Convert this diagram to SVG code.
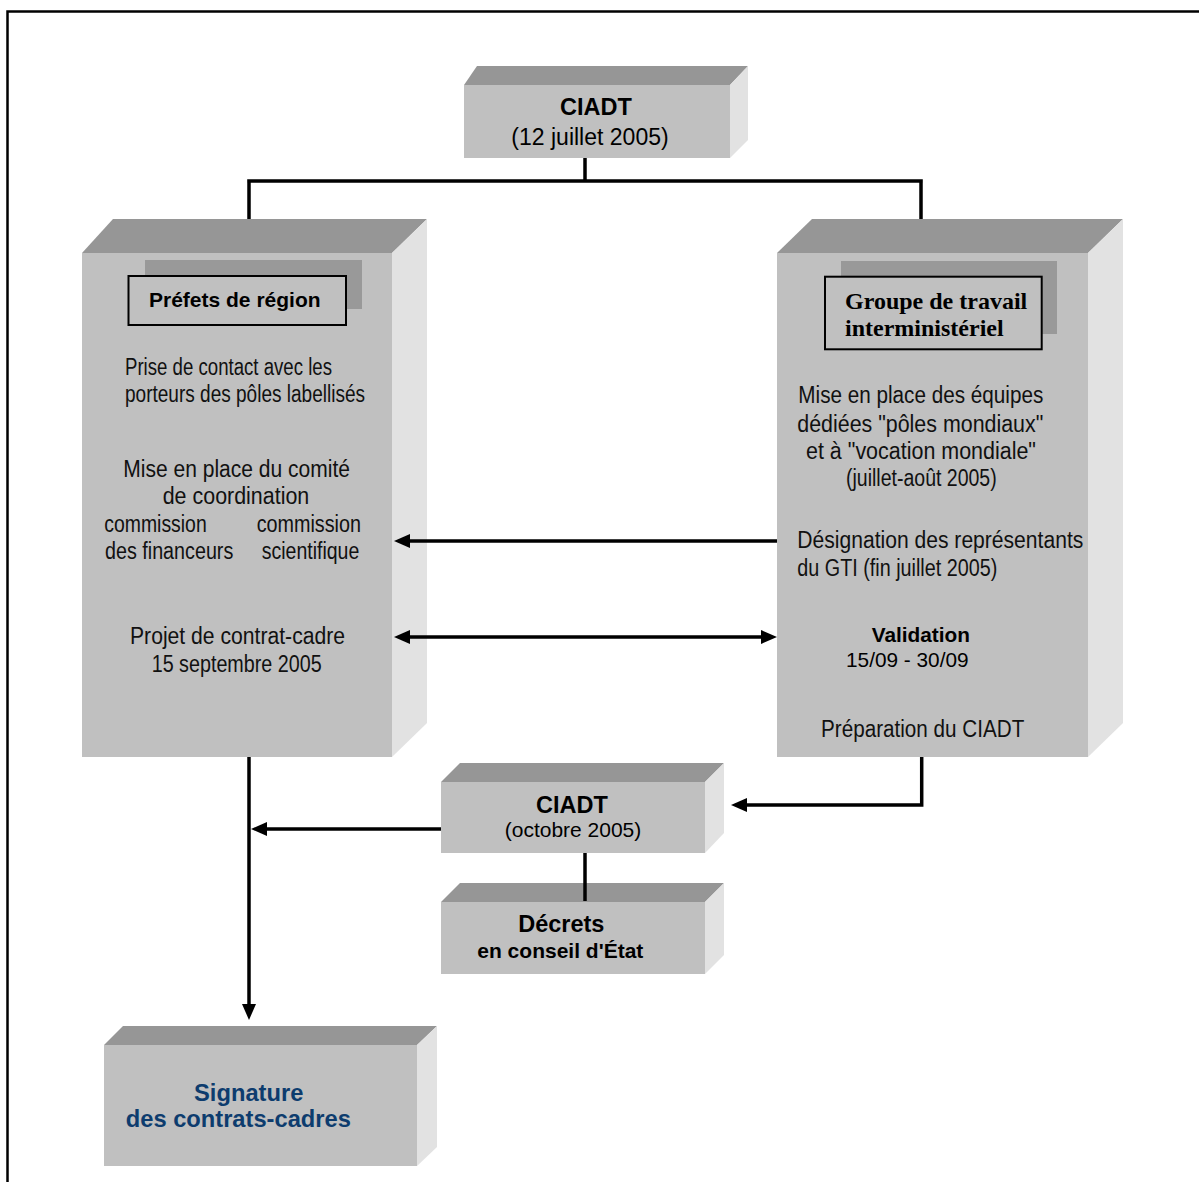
<svg xmlns="http://www.w3.org/2000/svg" width="1199" height="1182" viewBox="0 0 1199 1182">
<style>
.front{fill:#c0c0c0}
.top{fill:#969696}
.side{fill:#e2e2e2}
.b{font-family:"Liberation Sans",Arial,sans-serif;font-weight:bold;fill:#000}
.r{font-family:"Liberation Sans",Arial,sans-serif;fill:#000}
.n{font-family:"Liberation Sans Narrow","Liberation Sans",Arial,sans-serif;fill:#111;font-size:23px}
.tb{font-family:"Liberation Serif","Times New Roman",serif;font-weight:bold;font-size:24px;fill:#000}
.c{text-anchor:middle}
.ln{fill:none;stroke:#000;stroke-width:3.5}
</style>
<defs>
<marker id="ah" markerUnits="userSpaceOnUse" markerWidth="18" markerHeight="16" viewBox="0 0 18 16" refX="8" refY="8" orient="auto-start-reverse">
<path d="M0,1 L16,8 L0,15 z" fill="#000"/>
</marker>
</defs>
<rect x="7.5" y="11.5" width="1200" height="1200" fill="#fff" stroke="#000" stroke-width="2.5"/>

<g id="ciadt-juillet">
<polygon class="top" points="464,85 477,66 748,66 730,85"/>
<polygon class="side" points="730,85 748,66 748,140 730,158"/>
<rect class="front" x="464" y="85" width="266" height="73"/>
<text class="b c" x="596" y="115" font-size="23.5">CIADT</text>
<text class="r c" x="590" y="145" font-size="23">(12 juillet 2005)</text>
</g>

<g id="prefets">
<polygon class="top" points="82,253 113,219 427,219 392,253"/>
<polygon class="side" points="392,253 427,219 427,723 392,757"/>
<rect class="front" x="82" y="253" width="310" height="504"/>
<rect x="145" y="260" width="217" height="49" fill="#999"/>
<rect x="128.5" y="276" width="217.5" height="49" fill="#c0c0c0" stroke="#000" stroke-width="2"/>
<text class="b" x="149" y="306.5" font-size="21">Préfets de région</text>
<text class="n" x="125" y="375" font-size="21.5" textLength="207" lengthAdjust="spacingAndGlyphs">Prise de contact avec les</text>
<text class="n" x="125" y="401.5" font-size="21.5" textLength="240" lengthAdjust="spacingAndGlyphs">porteurs des pôles labellisés</text>
<text class="n" x="123.3" y="476.7" textLength="226.7" lengthAdjust="spacingAndGlyphs">Mise en place du comité</text>
<text class="n" x="162.7" y="504" textLength="146.6" lengthAdjust="spacingAndGlyphs">de coordination</text>
<text class="n" x="104.3" y="531.7" textLength="102.4" lengthAdjust="spacingAndGlyphs">commission</text>
<text class="n" x="256.7" y="531.7" textLength="104.3" lengthAdjust="spacingAndGlyphs">commission</text>
<text class="n" x="105" y="559" textLength="128.3" lengthAdjust="spacingAndGlyphs">des financeurs</text>
<text class="n" x="261.7" y="559" textLength="97.6" lengthAdjust="spacingAndGlyphs">scientifique</text>
<text class="n" x="130" y="644" textLength="215" lengthAdjust="spacingAndGlyphs">Projet de contrat-cadre</text>
<text class="n" x="151.7" y="671.7" textLength="170" lengthAdjust="spacingAndGlyphs">15 septembre 2005</text>
</g>

<g id="gti">
<polygon class="top" points="777,253 812,219 1123,219 1088,253"/>
<polygon class="side" points="1088,253 1123,219 1123,723 1088,757"/>
<rect class="front" x="777" y="253" width="311" height="504"/>
<rect x="841" y="261" width="216" height="73" fill="#999"/>
<rect x="825" y="276.7" width="216.7" height="72.6" fill="#c0c0c0" stroke="#000" stroke-width="2"/>
<text class="tb" x="845" y="309">Groupe de travail</text>
<text class="tb" x="845" y="336">interministériel</text>
<text class="n" x="798.3" y="403.3" textLength="245" lengthAdjust="spacingAndGlyphs">Mise en place des équipes</text>
<text class="n" x="797.3" y="431.7" textLength="246" lengthAdjust="spacingAndGlyphs">dédiées "pôles mondiaux"</text>
<text class="n" x="806" y="459" textLength="230" lengthAdjust="spacingAndGlyphs">et à "vocation mondiale"</text>
<text class="n" x="846" y="486" textLength="150.7" lengthAdjust="spacingAndGlyphs">(juillet-août 2005)</text>
<text class="n" x="797.3" y="547.7" textLength="286" lengthAdjust="spacingAndGlyphs">Désignation des représentants</text>
<text class="n" x="797.3" y="575.7" textLength="200" lengthAdjust="spacingAndGlyphs">du GTI (fin juillet 2005)</text>
<text class="b" x="871.7" y="641.7" font-size="20.8">Validation</text>
<text class="r" x="846" y="666.7" font-size="20.8">15/09 - 30/09</text>
<text class="n" x="821" y="737.3" textLength="203.3" lengthAdjust="spacingAndGlyphs">Préparation du CIADT</text>
</g>

<g id="ciadt-octobre">
<polygon class="top" points="441,782 460,763 724,763 705,782"/>
<polygon class="side" points="705,782 724,763 724,833 705,853"/>
<rect class="front" x="441" y="782" width="264" height="71"/>
<text class="b c" x="572" y="813" font-size="23.5">CIADT</text>
<text class="r c" x="573" y="837" font-size="21">(octobre 2005)</text>
</g>

<g id="decrets">
<polygon class="top" points="441,902 460,883 724,883 705,902"/>
<polygon class="side" points="705,902 724,883 724,955 705,974"/>
<rect class="front" x="441" y="902" width="264" height="72"/>
<text class="b c" x="561.3" y="931.7" font-size="23.5">Décrets</text>
<text class="b c" x="560.3" y="958" font-size="21">en conseil d'État</text>
</g>

<g id="signature">
<polygon class="top" points="104,1045 123,1026 437,1026 417,1045"/>
<polygon class="side" points="417,1045 437,1026 437,1147 417,1166"/>
<rect class="front" x="104" y="1045" width="313" height="121"/>
<text class="b c" x="248.7" y="1100.7" font-size="23.7" style="fill:#0d3c6e">Signature</text>
<text class="b c" x="238.3" y="1127.3" font-size="23.7" style="fill:#0d3c6e">des contrats-cadres</text>
</g>

<g id="connectors">
<path class="ln" d="M585,158 V181 M247.2,181 H922.8 M249,181 V219 M921,181 V219"/>
<path class="ln" d="M777,541 H402" marker-end="url(#ah)"/>
<path class="ln" d="M402,637 H769" marker-start="url(#ah)" marker-end="url(#ah)"/>
<path class="ln" d="M921.7,757 V805 H739" stroke-width="3" marker-end="url(#ah)"/>
<path class="ln" d="M441,829 H259" marker-end="url(#ah)"/>
<path class="ln" d="M249,757 V1012" marker-end="url(#ah)"/>
<path class="ln" d="M585,853 V901"/>
</g>
</svg>
